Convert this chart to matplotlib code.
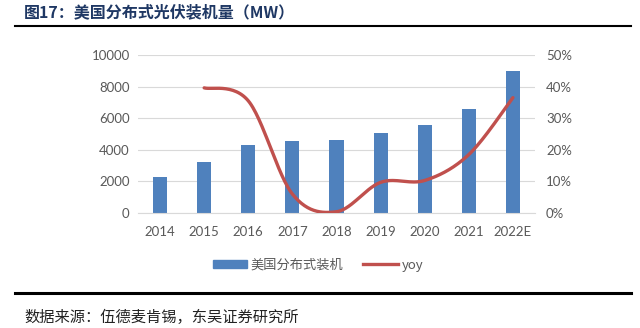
import numpy as np
import matplotlib.pyplot as plt
from matplotlib.lines import Line2D
from matplotlib.patches import Patch

plt.rcParams["font.family"] = ["Lato", "Noto Sans CJK SC", "DejaVu Sans"]

YEARS = ["2014", "2015", "2016", "2017", "2018", "2019", "2020", "2021", "2022E"]
INSTALLED = [2280, 3200, 4320, 4580, 4600, 5040, 5550, 6580, 8990]  # MW
YOY = [np.nan, 39.6, 35.5, 6.0, 0.4, 9.7, 10.3, 18.5, 36.5]  # %

BAR_C = "#4F81BD"
LINE_C = "#C0504D"
TICK_C = "#595959"
CJK = ["Noto Sans CJK SC", "DejaVu Sans"]


def smooth(x, y, n=30):
    # Excel-style smoothed line: cubic Bezier, control points from neighbours (Catmull-Rom)
    x = np.asarray(x, float); y = np.asarray(y, float)
    px, py = [], []
    for i in range(len(x) - 1):
        i0 = max(i - 1, 0); i3 = min(i + 2, len(x) - 1)
        p0 = np.array([x[i], y[i]]); p3 = np.array([x[i + 1], y[i + 1]])
        p1 = p0 + (np.array([x[i + 1], y[i + 1]]) - np.array([x[i0], y[i0]])) / 6
        p2 = p3 - (np.array([x[i3], y[i3]]) - np.array([x[i], y[i]])) / 6
        t = np.linspace(0, 1, n)[:, None]
        seg = (1 - t) ** 3 * p0 + 3 * (1 - t) ** 2 * t * p1 + 3 * (1 - t) * t ** 2 * p2 + t ** 3 * p3
        px.extend(seg[:, 0]); py.extend(seg[:, 1])
    return np.array(px), np.array(py)


fig = plt.figure(figsize=(6.4, 3.28), dpi=100)
ax = fig.add_axes([138 / 640, 1 - 213 / 328, (535 - 138) / 640, (213 - 55) / 328])
x = np.arange(len(YEARS))
ax.bar(x, INSTALLED, width=0.32, color=BAR_C, zorder=2)
ax.set_xlim(-0.5, len(YEARS) - 0.5)
ax.set_ylim(0, 10000)
ax.set_yticks(np.arange(0, 10001, 2000))
ax.grid(axis="y", color="#D9D9D9", lw=0.8, zorder=0)
ax.set_xticks(x)
ax.set_xticklabels(YEARS)
for s in ["top", "right", "left"]:
    ax.spines[s].set_visible(False)
ax.spines["bottom"].set_color("#D9D9D9")
ax.tick_params(length=0, labelsize=9.5, colors=TICK_C, pad=6)
ax.tick_params(axis="x", pad=9)

ax2 = ax.twinx()
m = ~np.isnan(YOY)
sx, sy = smooth(x[m], np.array(YOY)[m])
ax2.plot(sx, sy, color=LINE_C, lw=2.4, solid_capstyle="round", zorder=3)
ax2.set_ylim(0, 50)
ax2.set_yticks(np.arange(0, 51, 10))
ax2.set_yticklabels([f"{v}%" for v in range(0, 51, 10)])
for s in ax2.spines.values():
    s.set_visible(False)
ax2.tick_params(length=0, labelsize=9.5, colors=TICK_C, pad=8)

handles = [Patch(color=BAR_C, label="美国分布式装机"), Line2D([], [], color=LINE_C, lw=2.4, label="yoy")]
leg = fig.legend(handles=handles, loc="center", bbox_to_anchor=(318 / 640, 1 - 265 / 328), ncol=2,
                 frameon=False, handlelength=2.6, handleheight=0.5, columnspacing=1.5,
                 handletextpad=0.3, prop={"family": CJK, "size": 9.5})
for t in leg.get_texts():
    t.set_color(TICK_C)

fig.text(24 / 640, 1 - 12 / 328, "图17：美国分布式光伏装机量（MW）", fontsize=11.5, fontweight="bold",
         color="#1F3864", va="center", ha="left", family=CJK)
fig.add_artist(Line2D([15 / 640, 631 / 640], [1 - 26 / 328] * 2, color="black", lw=1.5))
fig.add_artist(Line2D([15 / 640, 631 / 640], [1 - 293 / 328] * 2, color="black", lw=2.2))
fig.text(24 / 640, 1 - 317 / 328, "数据来源：伍德麦肯锡，东吴证券研究所", fontsize=11,
         color="#222222", va="center", ha="left", family=CJK)

fig.savefig("out.png", dpi=100, facecolor="white")
